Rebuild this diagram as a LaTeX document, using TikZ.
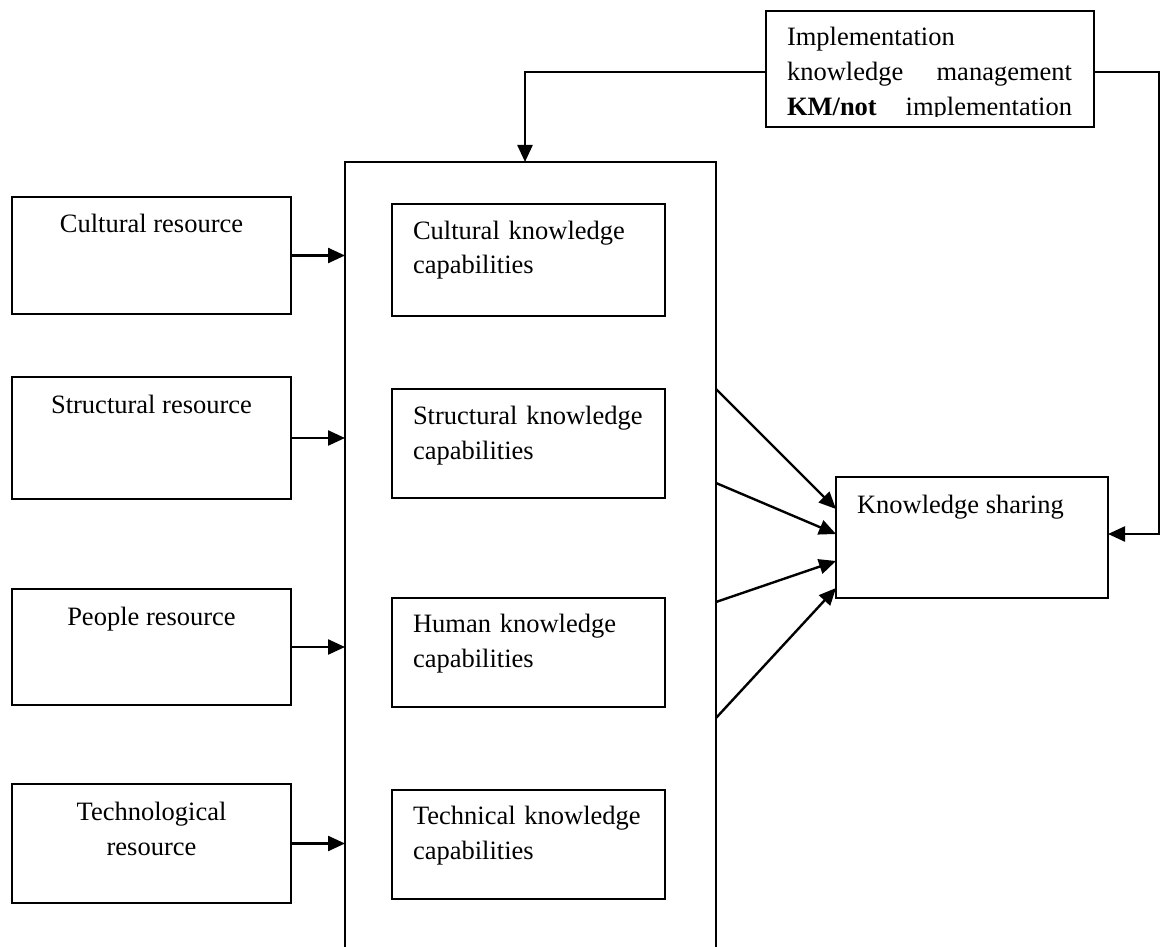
\documentclass[tikz,border=0pt]{standalone}
\usepackage{fontspec}
\setmainfont{Liberation Serif}
\usetikzlibrary{arrows.meta,calc}
\tikzset{
  box/.style={draw=black, line width=2pt, rectangle, inner sep=0pt, outer sep=0pt, anchor=north west},
  txt/.style={font=\fontsize{26.5pt}{35pt}\selectfont, inner sep=0pt, outer sep=0pt},
  conn/.style={line width=2.4pt, -{Triangle[length=17pt,width=15pt]}},
}
\begin{document}
\begin{tikzpicture}[x=1pt,y=-1pt]
\useasboundingbox (0,0) rectangle (1160,947);
\fill[white] (0,0) rectangle (1160,947);

% left resource boxes
\node[box, minimum width=279pt, minimum height=117pt] (cr) at (12,197) {};
\node[box, minimum width=279pt, minimum height=122pt] (sr) at (12,377) {};
\node[box, minimum width=279pt, minimum height=116pt] (pr) at (12,589) {};
\node[box, minimum width=279pt, minimum height=119pt] (tr) at (12,784) {};
\node[txt, anchor=base] (crt) at (151.5,233) {Cultural resource};
\node[txt, anchor=base] (srt) at (151.5,413) {Structural resource};
\node[txt, anchor=base] (prt) at (151.5,625) {People resource};
\node[txt, anchor=base, text width=279pt, align=center] (trt) at (151.5,820) {Technological\\resource};

% big capability box
\node[box, minimum width=371pt, minimum height=800pt] (big) at (345,162) {};

% inner capability boxes
\node[box, minimum width=273pt, minimum height=112pt] (ck) at (392,204) {};
\node[box, minimum width=273pt, minimum height=109pt] (sk) at (392,389) {};
\node[box, minimum width=273pt, minimum height=109pt] (hk) at (392,598) {};
\node[box, minimum width=273pt, minimum height=109pt] (tk) at (392,790) {};
\node[txt, anchor=base west, text width=250pt, align=left] (ckt) at (413,239) {Cultural knowledge\\capabilities};
\node[txt, anchor=base west, text width=250pt, align=left] (skt) at (413,424) {Structural knowledge\\capabilities};
\node[txt, anchor=base west, text width=250pt, align=left] (hkt) at (413,632) {Human knowledge\\capabilities};
\node[txt, anchor=base west, text width=250pt, align=left] (tkt) at (413,824) {Technical knowledge\\capabilities};

% knowledge sharing
\node[box, minimum width=272pt, minimum height=121pt] (ks) at (836,477) {};
\node[txt, anchor=base west] (kst) at (857,513) {Knowledge sharing};

% implementation box
\node[box, minimum width=328pt, minimum height=116pt] (km) at (766,11) {};
\begin{scope}
\clip (766,11) rectangle (1094,117);
\node[txt, anchor=base west, text width=285pt] (kmt) at (787,46)
  {Implementation\\knowledge\hfill management\\\textbf{KM/not}\hfill implementation};
\end{scope}

% resource -> capability arrows
\draw[conn] (cr.east) -- (cr.east -| big.west);
\draw[conn] (sr.east) -- (sr.east -| big.west);
\draw[conn] (pr.east) -- (pr.east -| big.west);
\draw[conn] (tr.east) -- (tr.east -| big.west);

% capability -> knowledge sharing arrows
\draw[conn] ($(big.north east)+(0,227)$) -- ($(ks.north west)+(0,32)$);
\draw[conn] ($(big.north east)+(0,321)$) -- ($(ks.north west)+(0,57)$);
\draw[conn] ($(big.north east)+(0,440)$) -- ($(ks.north west)+(0,84)$);
\draw[conn] ($(big.north east)+(0,556)$) -- ($(ks.north west)+(0,111)$);

% feedback lines from implementation box
\coordinate (fl) at (525,72);
\coordinate (fr) at (1159,72);
\draw[conn] ($(km.north west)+(0,61)$) -- (fl) -- (fl |- big.north);
\draw[conn] ($(km.north east)+(0,61)$) -- (fr) -- ($(fr |- ks.north east)+(0,57)$) -- ($(ks.north east)+(0,57)$);
\end{tikzpicture}
\end{document}
